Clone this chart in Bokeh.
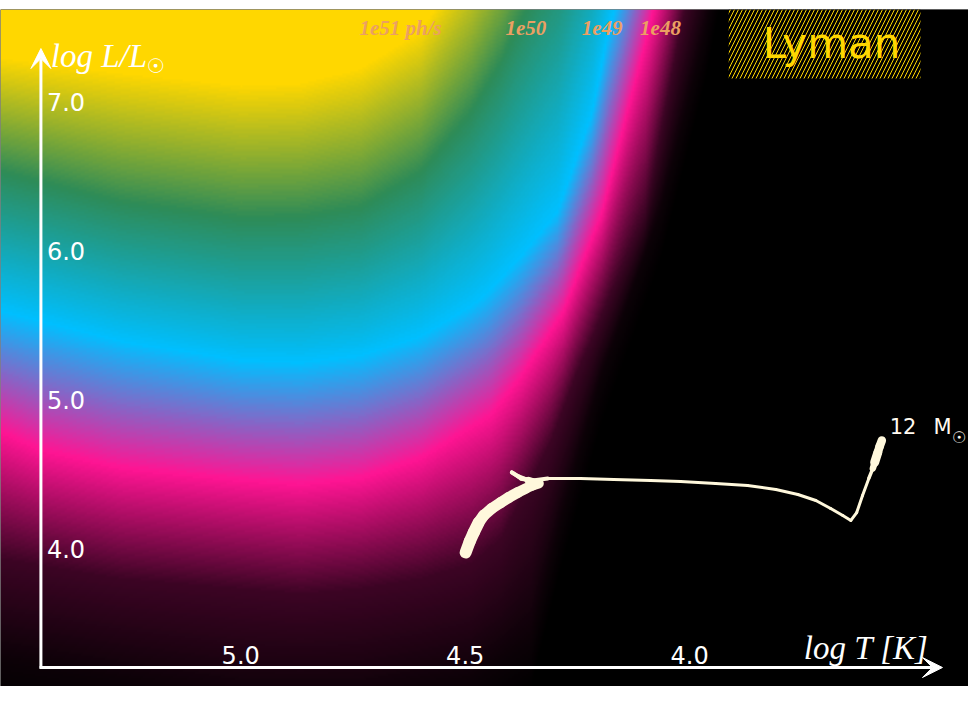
import numpy as np
from bokeh.plotting import figure
from bokeh.models import Range1d, LinearColorMapper, Arrow, VeeHead, ColumnDataSource
from bokeh.core.properties import value
from bokeh.embed import file_html
from bokeh.resources import INLINE

# ---------------- data ----------------
# Lyman photon-rate levels: log L/Lsun of each colour level, sampled in log T (ascending)
gold_logT = [3.3786, 4.1982, 4.3764, 4.4209, 4.4878, 4.5991, 4.7327, 4.8664, 5.0, 5.2673, 5.5345]
gold_logL = [27.82, 10.37, 8.691, 8.423, 8.020, 7.497, 7.248, 7.148, 7.134, 7.215, 7.315]

green_logT = [3.3786, 3.9755, 4.1982, 4.2873, 4.3875, 4.4209, 4.4878, 4.5991, 4.7327, 4.8664, 5.0, 5.2673, 5.5345]
green_logL = [26.0, 11.711, 8.893, 8.087, 7.497, 7.282, 6.946, 6.544, 6.309, 6.242, 6.235, 6.342, 6.544]

cyan_logT = [3.3786, 3.9755, 4.0913, 4.1381, 4.1804, 4.2160, 4.2940, 4.3764, 4.4543, 4.4878, 4.5991,
             4.7327, 4.8664, 5.0, 5.2673, 5.4454, 5.5345]
cyan_logL = [25.0, 10.37, 8.490, 7.953, 7.483, 6.946, 6.275, 5.973, 5.718, 5.638, 5.436,
             5.302, 5.255, 5.268, 5.403, 5.537, 5.604]

pink_logT = [3.3786, 3.9755, 4.0913, 4.1381, 4.1938, 4.2806, 4.3764, 4.4432, 4.4878, 4.5991,
             4.7327, 4.8664, 5.0, 5.2673, 5.4454, 5.5345]
pink_logL = [24.0, 9.027, 7.483, 6.946, 6.275, 5.604, 5.154, 4.899, 4.819, 4.611,
             4.477, 4.436, 4.463, 4.544, 4.664, 4.785]

dark_logT = [3.3786, 3.9310, 4.0200, 4.0980, 4.2539, 4.3096, 4.4209, 4.4878, 4.5991, 4.7327,
             4.8664, 5.0, 5.2673, 5.5345]
dark_logL = [23.0, 8.691, 7.483, 6.275, 5.154, 4.711, 4.060, 3.893, 3.792, 3.725,
             3.691, 3.725, 3.792, 3.926]

faint_logT = [3.3786, 3.8864, 3.9644, 4.0646, 4.1982, 4.2873, 4.3541, 4.4878, 4.7327, 5.0, 5.5345]
faint_logL = [22.0, 8.691, 7.483, 6.275, 5.154, 4.195, 3.389, 3.121, 2.987, 2.987, 3.255]

level_colors = ["#000000", "#0c0107", "#3c0424", "#ff1493", "#00bfff", "#2e8b57", "#ffd700"]

level_labels = ["1e51 ph/s", "1e50", "1e49", "1e48"]
level_label_logT = [4.644, 4.365, 4.195, 4.065]

# 12 Msun evolutionary track
track_logT = [4.499, 4.490, 4.481, 4.470, 4.459, 4.441, 4.421, 4.403, 4.383, 4.365, 4.350, 4.336,
              4.359, 4.381, 4.396, 4.376, 4.350,
              4.316, 4.243, 4.169, 4.087, 4.020, 3.942, 3.871, 3.808, 3.759, 3.719, 3.686, 3.659, 3.641,
              3.628, 3.615, 3.601, 3.592, 3.588, 3.581, 3.577, 3.572]
track_logL = [3.980, 4.054, 4.114, 4.181, 4.228, 4.275, 4.315, 4.349, 4.383, 4.409, 4.430, 4.443,
              4.463, 4.490, 4.517, 4.477, 4.463,
              4.477, 4.477, 4.470, 4.463, 4.456, 4.443, 4.430, 4.403, 4.369, 4.329, 4.275, 4.228, 4.195,
              4.248, 4.362, 4.477, 4.544, 4.584, 4.651, 4.691, 4.732]
# relative time weight along the track (drawn as line thickness)
track_weight = [12, 12, 12, 12, 11, 11, 11, 11, 11, 10, 10, 10,
                5, 4, 4, 4, 5,
                3, 3, 3, 3, 3, 3, 3, 3, 3, 3, 3, 3, 3,
                3, 3, 3, 4, 9, 9, 8, 9]

xticks = [5.0, 4.5, 4.0]
yticks = [7.0, 6.0, 5.0, 4.0]

# ---------------- figure ----------------
X_LEFT, X_RIGHT = 5.535, 3.379
Y_BOT, Y_TOP = 3.0805, 7.624

p = figure(width=968, height=686, x_range=Range1d(X_LEFT, X_RIGHT), y_range=Range1d(Y_BOT, Y_TOP),
           output_backend="svg", toolbar_location=None, x_axis_location=None, y_axis_location=None,
           min_border_top=9, min_border_bottom=0, min_border_left=0, min_border_right=0,
           background_fill_color="black", border_fill_color="white", outline_line_color=None)
p.grid.grid_line_color = None

# colour field: position between the level curves, column by column
nx, ny = 484, 339
gx = np.linspace(X_RIGHT, X_LEFT, nx)
gy = np.linspace(Y_BOT, Y_TOP, ny)
curves = [(faint_logT, faint_logL), (dark_logT, dark_logL), (pink_logT, pink_logL),
          (cyan_logT, cyan_logL), (green_logT, green_logL), (gold_logT, gold_logL)]
lc = np.array([np.interp(gx, t, l) for t, l in curves])
for k in range(1, len(curves)):
    lc[k] = np.maximum(lc[k], lc[k - 1] + 1e-3)
idx = np.arange(len(curves) + 1, dtype=float)
field = np.empty((ny, nx), dtype=np.float32)
for j in range(nx):
    xp = np.concatenate([[lc[0, j] - 0.35], lc[:, j]])
    field[:, j] = np.interp(gy, xp, idx)

def hex2rgb(h):
    return [int(h[i:i + 2], 16) for i in (1, 3, 5)]

rgb = np.array([hex2rgb(c) for c in level_colors], dtype=float)
vv = np.linspace(0, len(level_colors) - 1, 256)
palette = []
for v in vv:
    r, g, b = (int(round(np.interp(v, idx, rgb[:, k]))) for k in range(3))
    palette.append("#%02x%02x%02x" % (r, g, b))
mapper = LinearColorMapper(palette=palette, low=0, high=len(level_colors) - 1)

p.image(image=[field], x=X_RIGHT, y=Y_BOT, dw=X_LEFT - X_RIGHT, dh=Y_TOP - Y_BOT, color_mapper=mapper)

# level labels along the top
p.text(x=level_label_logT, y=[7.497] * len(level_labels), text=level_labels,
       text_font=value("Liberation Serif"), text_font_style="bold italic", text_font_size="21px",
       text_color="#eba062", text_align="center", text_baseline="middle")

# Lyman box
p.quad(left=[3.913], right=[3.486], bottom=[7.161], top=[Y_TOP], fill_color="black",
       line_color=None, hatch_pattern="/", hatch_color="#ffd700", hatch_scale=8, hatch_weight=1)
p.text(x=[3.684], y=[7.396], text=["Lyman"], text_font=value("DejaVu Sans"), text_font_size="42px",
       text_color="#ffd700", text_align="center", text_baseline="middle")

# track
n = len(track_logT)
src = ColumnDataSource(dict(
    xs=[[track_logT[i], track_logT[i + 1]] for i in range(n - 1)],
    ys=[[track_logL[i], track_logL[i + 1]] for i in range(n - 1)],
    w=[(track_weight[i] + track_weight[i + 1]) / 2 for i in range(n - 1)],
))
p.multi_line(xs="xs", ys="ys", line_width="w", source=src, line_color="#fff8dc",
             line_cap="round", line_join="round")
p.text(x=[3.5546], y=[4.819], text=["12\u2002\u00a0M"], text_font=value("DejaVu Sans"),
       text_font_size="21px", text_color="#fffaf0", text_align="left", text_baseline="middle")
p.text(x=[3.416], y=[4.752], text=["\u2609"], text_font=value("DejaVu Sans"), text_font_size="16px",
       text_color="#fffaf0", text_align="left", text_baseline="middle")

# axes with arrows
AX_T = 5.445
AX_L = 3.208
p.add_layout(Arrow(end=VeeHead(size=20, fill_color="white", line_color="white", line_width=1),
                   x_start=AX_T, y_start=AX_L - 0.007, x_end=AX_T, y_end=7.362,
                   line_color="white", line_width=3))
p.add_layout(Arrow(end=VeeHead(size=20, fill_color="white", line_color="white", line_width=1),
                   x_start=AX_T + 0.003, y_start=AX_L, x_end=3.437, y_end=AX_L,
                   line_color="white", line_width=3))

p.text(x=xticks, y=[AX_L] * len(xticks), text=["%.1f" % t for t in xticks], y_offset=-13,
       text_font=value("DejaVu Sans"), text_font_size="24px", text_color="white",
       text_align="center", text_baseline="middle")
p.text(x=[AX_T] * len(yticks), y=yticks, text=["%.1f" % t for t in yticks], x_offset=6,
       text_font=value("DejaVu Sans"), text_font_size="24px", text_color="white",
       text_align="left", text_baseline="middle")

# axis titles
p.text(x=[5.423], y=[7.315], text=["log L/L"], text_font=value("Liberation Serif"),
       text_font_style="italic", text_font_size="33px", text_color="white",
       text_align="left", text_baseline="middle")
p.text(x=[5.19], y=[7.242], text=["\u2609"], text_font=value("DejaVu Sans"),
       text_font_size="20px", text_color="white", text_align="center", text_baseline="middle")
p.text(x=[3.746], y=[3.342], text=["log T [K]"], text_font=value("Liberation Serif"),
       text_font_style="italic", text_font_size="33px", text_color="white",
       text_align="left", text_baseline="middle")

open("out.html", "w").write(file_html(p, INLINE))
